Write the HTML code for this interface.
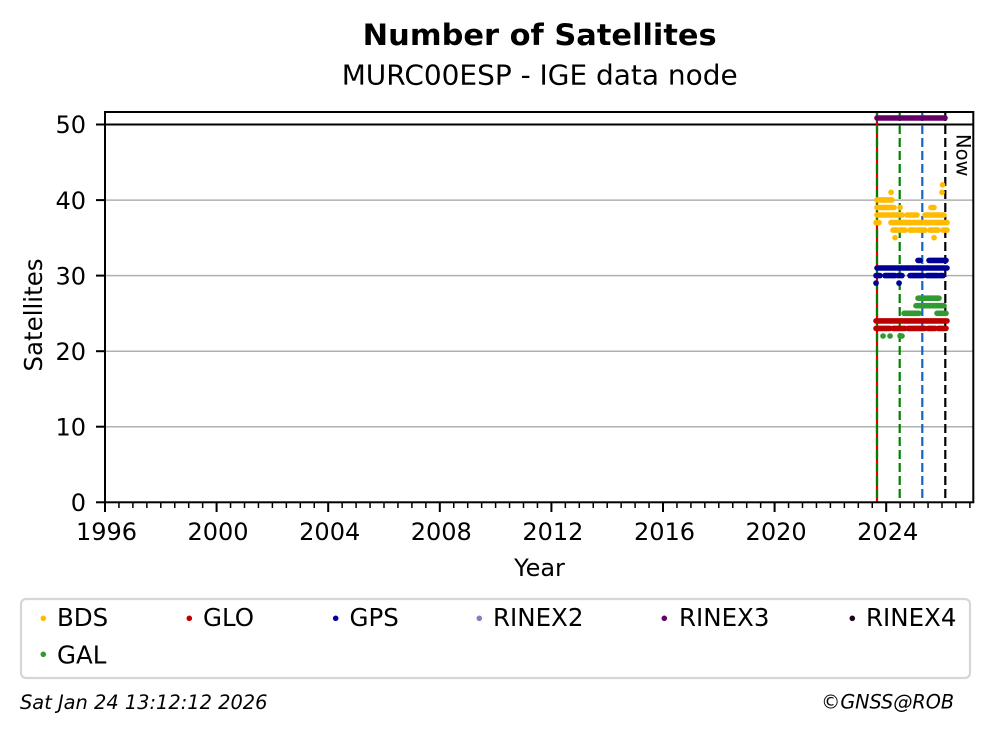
<!DOCTYPE html>
<html><head><meta charset="utf-8"><style>
html,body{margin:0;padding:0;background:#fff;}
svg{display:block;}
text{font-family:"DejaVu Sans","Liberation Sans",sans-serif;fill:#000;}
</style></head><body>
<svg width="992" height="734" viewBox="0 0 992 734" xmlns="http://www.w3.org/2000/svg">
<rect width="992" height="734" fill="#fff"/>
<!-- titles -->
<text x="539.7" y="45" font-size="29" font-weight="bold" text-anchor="middle" textLength="354" lengthAdjust="spacingAndGlyphs">Number of Satellites</text>
<text x="539.7" y="84.5" font-size="28" text-anchor="middle" textLength="396" lengthAdjust="spacingAndGlyphs">MURC00ESP - IGE data node</text>

<!-- grid -->
<g stroke="#b0b0b0" stroke-width="1.5">
<line x1="105" y1="426.7" x2="973" y2="426.7"/>
<line x1="105" y1="351.2" x2="973" y2="351.2"/>
<line x1="105" y1="275.6" x2="973" y2="275.6"/>
<line x1="105" y1="200.1" x2="973" y2="200.1"/>
</g>
<line x1="105" y1="124.5" x2="973" y2="124.5" stroke="#000" stroke-width="2"/>

<!-- vertical lines -->
<line x1="877" y1="112" x2="877" y2="502" stroke="#dd0000" stroke-width="2.2"/>
<g stroke-width="2.2" stroke-dasharray="9,4" fill="none">
<line x1="877" y1="112" x2="877" y2="502" stroke="#008000"/>
<line x1="899.7" y1="112" x2="899.7" y2="502" stroke="#008000"/>
<line x1="922.3" y1="112" x2="922.3" y2="502" stroke="#1565c0"/>
<line x1="945.3" y1="112" x2="945.3" y2="502" stroke="#000"/>
</g>

<!-- data -->
<g stroke-linecap="round" stroke-width="5.6" fill="none">
<!-- RINEX3 -->
<line x1="877" y1="118" x2="945" y2="118" stroke="#660066"/>
<!-- BDS -->
<g stroke="#ffbb00">
<line x1="942.5" y1="184.8" x2="942.6" y2="184.8"/>
<line x1="891" y1="192.3" x2="891.1" y2="192.3"/>
<line x1="942" y1="192.3" x2="942.1" y2="192.3"/>
<line x1="877" y1="199.9" x2="892" y2="199.9"/>
<line x1="877" y1="207.5" x2="894" y2="207.5"/>
<line x1="900" y1="207.5" x2="900.1" y2="207.5"/>
<line x1="931" y1="207.5" x2="934" y2="207.5"/>
<line x1="877" y1="215" x2="902" y2="215"/>
<line x1="907" y1="215" x2="917" y2="215"/>
<line x1="925" y1="215" x2="944" y2="215"/>
<line x1="876" y1="222.6" x2="879" y2="222.6"/>
<line x1="891" y1="222.6" x2="947" y2="222.6"/>
<line x1="893" y1="230.1" x2="897" y2="230.1"/>
<line x1="900" y1="230.1" x2="905" y2="230.1"/>
<line x1="910" y1="230.1" x2="915" y2="230.1"/>
<line x1="918" y1="230.1" x2="925" y2="230.1"/>
<line x1="930" y1="230.1" x2="938" y2="230.1"/>
<line x1="943" y1="230.1" x2="947" y2="230.1"/>
<line x1="895" y1="237.7" x2="895.1" y2="237.7"/>
<line x1="934" y1="237.7" x2="934.1" y2="237.7"/>
</g>
<!-- GPS -->
<g stroke="#000099">
<line x1="918" y1="260.4" x2="920" y2="260.4"/>
<line x1="929" y1="260.4" x2="946" y2="260.4"/>
<line x1="877" y1="268" x2="947" y2="268"/>
<line x1="876" y1="275.6" x2="880" y2="275.6"/>
<line x1="885" y1="275.6" x2="895" y2="275.6"/>
<line x1="898" y1="275.6" x2="902" y2="275.6"/>
<line x1="910" y1="275.6" x2="923" y2="275.6"/>
<line x1="927" y1="275.6" x2="938" y2="275.6"/>
<line x1="940" y1="275.6" x2="943" y2="275.6"/>
<line x1="876" y1="283.1" x2="876.1" y2="283.1"/>
<line x1="899" y1="283.1" x2="899.1" y2="283.1"/>
</g>
<!-- GAL -->
<g stroke="#339933">
<line x1="918" y1="298.2" x2="939" y2="298.2"/>
<line x1="916" y1="305.7" x2="944" y2="305.7"/>
<line x1="904" y1="313.3" x2="919" y2="313.3"/>
<line x1="937" y1="313.3" x2="946" y2="313.3"/>
<line x1="883" y1="336" x2="883.1" y2="336"/>
<line x1="890" y1="336" x2="890.1" y2="336"/>
<line x1="900" y1="336" x2="902" y2="336"/>
</g>
<!-- GLO -->
<g stroke="#bb0000">
<line x1="876" y1="320.9" x2="947" y2="320.9"/>
<line x1="876" y1="328.4" x2="890" y2="328.4"/>
<line x1="893" y1="328.4" x2="905" y2="328.4"/>
<line x1="908" y1="328.4" x2="925" y2="328.4"/>
<line x1="928" y1="328.4" x2="935" y2="328.4"/>
<line x1="938" y1="328.4" x2="946" y2="328.4"/>
</g>
</g>

<!-- Now label -->
<text transform="translate(956.5,134) rotate(90)" font-size="19.5">Now</text>

<!-- axes frame -->
<rect x="105" y="112" width="868.3" height="390.3" fill="none" stroke="#000" stroke-width="2"/>

<!-- y ticks -->
<g stroke="#000" stroke-width="2">
<line x1="96" y1="502.3" x2="105" y2="502.3"/>
<line x1="96" y1="426.7" x2="105" y2="426.7"/>
<line x1="96" y1="351.2" x2="105" y2="351.2"/>
<line x1="96" y1="275.6" x2="105" y2="275.6"/>
<line x1="96" y1="200.1" x2="105" y2="200.1"/>
<line x1="96" y1="124.5" x2="105" y2="124.5"/>
</g>
<g font-size="24" text-anchor="end">
<text x="86" y="511">0</text>
<text x="86" y="435.4">10</text>
<text x="86" y="359.9">20</text>
<text x="86" y="284.3">30</text>
<text x="86" y="208.8">40</text>
<text x="86" y="133.2">50</text>
</g>

<!-- x ticks -->
<g stroke="#000" stroke-width="1.5">
<path d="M105 502 v6 M118.95 502 v6 M132.9 502 v6 M146.85 502 v6 M160.8 502 v6 M174.75 502 v6 M188.7 502 v6 M202.65 502 v6 M216.6 502 v6 M230.55 502 v6 M244.5 502 v6 M258.45 502 v6 M272.4 502 v6 M286.35 502 v6 M300.3 502 v6 M314.25 502 v6 M328.2 502 v6 M342.15 502 v6 M356.1 502 v6 M370.05 502 v6 M384 502 v6 M397.95 502 v6 M411.9 502 v6 M425.85 502 v6 M439.8 502 v6 M453.75 502 v6 M467.7 502 v6 M481.65 502 v6 M495.6 502 v6 M509.55 502 v6 M523.5 502 v6 M537.45 502 v6 M551.4 502 v6 M565.35 502 v6 M579.3 502 v6 M593.25 502 v6 M607.2 502 v6 M621.15 502 v6 M635.1 502 v6 M649.05 502 v6 M663 502 v6 M676.95 502 v6 M690.9 502 v6 M704.85 502 v6 M718.8 502 v6 M732.75 502 v6 M746.7 502 v6 M760.65 502 v6 M774.6 502 v6 M788.55 502 v6 M802.5 502 v6 M816.45 502 v6 M830.4 502 v6 M844.35 502 v6 M858.3 502 v6 M872.25 502 v6 M886.2 502 v6 M900.15 502 v6 M914.1 502 v6 M928.05 502 v6 M942 502 v6 M955.95 502 v6 M969.9 502 v6"/>
</g>
<g stroke="#000" stroke-width="2">
<path d="M105 502 v10 M216.6 502 v10 M328.2 502 v10 M439.8 502 v10 M551.4 502 v10 M663 502 v10 M774.6 502 v10 M886.2 502 v10"/>
</g>
<g font-size="24" text-anchor="middle">
<text x="106.5" y="540">1996</text>
<text x="218" y="540">2000</text>
<text x="329.7" y="540">2004</text>
<text x="441.3" y="540">2008</text>
<text x="552.9" y="540">2012</text>
<text x="664.5" y="540">2016</text>
<text x="776.1" y="540">2020</text>
<text x="887.7" y="540">2024</text>
</g>
<text x="539.5" y="576" font-size="24" text-anchor="middle">Year</text>
<text transform="translate(42,315) rotate(-90)" font-size="24.5" text-anchor="middle">Satellites</text>

<!-- legend -->
<rect x="21" y="599" width="949" height="79" rx="5" ry="5" fill="#fff" stroke="#d6d6d6" stroke-width="2.2"/>
<g>
<circle cx="43.3" cy="618.3" r="2.8" fill="#ffbb00"/>
<circle cx="189.3" cy="618.3" r="2.8" fill="#bb0000"/>
<circle cx="335.7" cy="618.3" r="2.8" fill="#000099"/>
<circle cx="479.3" cy="618.3" r="2.8" fill="#8080c0"/>
<circle cx="664.3" cy="618.3" r="2.8" fill="#660066"/>
<circle cx="852.3" cy="618.3" r="2.8" fill="#220022"/>
<circle cx="43.3" cy="654.3" r="2.8" fill="#339933"/>
</g>
<g font-size="24.5">
<text x="57" y="626">BDS</text>
<text x="203" y="626">GLO</text>
<text x="349.5" y="626">GPS</text>
<text x="493" y="626">RINEX2</text>
<text x="679" y="626">RINEX3</text>
<text x="866" y="626">RINEX4</text>
<text x="57" y="663.5">GAL</text>
</g>

<!-- footer -->
<text x="20" y="709" font-size="19.4" font-style="italic">Sat Jan 24 13:12:12 2026</text>
<text x="954" y="708.5" font-size="19.2" font-style="italic" text-anchor="end">©GNSS@ROB</text>
</svg>
</body></html>
